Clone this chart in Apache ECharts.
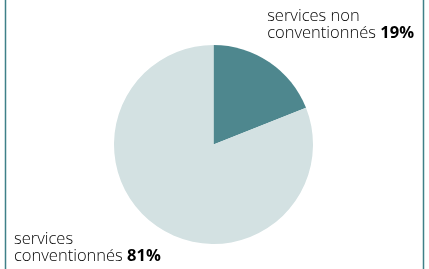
<!DOCTYPE html>
<html>
<head>
<meta charset="utf-8">
<script src="https://cdn.jsdelivr.net/npm/echarts@6/dist/echarts.min.js"></script>
<style>
  html, body { margin: 0; padding: 0; background: #fff; }
  #chart { width: 429px; height: 269px; }
</style>
</head>
<body>
<div id="chart"></div>
<script>
// parts of the pie, clockwise from 12 o'clock
const categories = ['services non\nconventionnés', 'services\nconventionnés'];
const values = [19, 81];
const colors = ['#4e878e', '#d3e1e2'];

const chart = echarts.init(document.getElementById('chart'));

const labelText = (i) => {
  const lines = categories[i].split('\n');
  return '{t|' + lines[0] + '}\n{t|' + lines[1] + ' }{b|' + values[i] + '%}';
};

const richStyle = {
  t: { fontFamily: 'Open Sans', fontSize: 16.5, fontWeight: 300, color: '#3f8a90', lineHeight: 17 },
  b: { fontFamily: 'Open Sans', fontSize: 16.5, fontWeight: 'bold', color: '#226a72', lineHeight: 17 }
};

chart.setOption({
  animation: false,
  graphic: [
    { type: 'line', shape: { x1: 5.5, y1: 0, x2: 5.5, y2: 269 }, style: { stroke: '#3f8088', lineWidth: 1.5 } },
    { type: 'line', shape: { x1: 423.5, y1: 0, x2: 423.5, y2: 269 }, style: { stroke: '#3f8088', lineWidth: 1.5 } },
    {
      type: 'text', right: 15, top: 8,
      style: { text: labelText(0), rich: richStyle, align: 'right' }
    },
    {
      type: 'text', left: 14, top: 231,
      style: { text: labelText(1), rich: richStyle, align: 'left' }
    }
  ],
  series: [
    {
      type: 'pie',
      center: [213.5, 144.5],
      radius: [0, 99.5],
      startAngle: 90,
      clockwise: true,
      label: { show: false },
      labelLine: { show: false },
      emphasis: { disabled: true },
      data: values.map((v, i) => ({
        value: v,
        name: categories[i],
        itemStyle: { color: colors[i] }
      }))
    }
  ]
});
</script>
</body>
</html>
